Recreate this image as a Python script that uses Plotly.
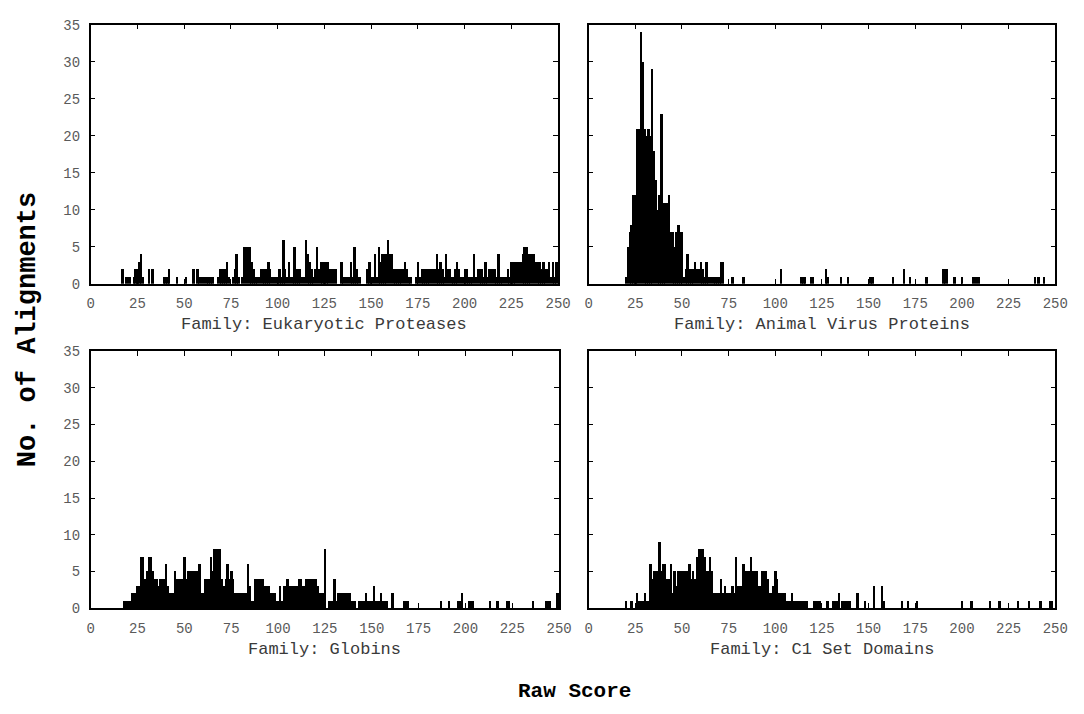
import plotly.graph_objects as go

# Raw score bins 0..250 (one bin per integer score)
scores = list(range(0, 251))

euk_proteases = [
    0,0,0,0,0,0,0,0,0,0,
    0,0,0,0,0,0,0,2,0,1,
    1,1,0,1,2,2,3,4,1,0,
    0,2,0,2,0,0,0,0,0,1,
    1,1,2,0,0,0,1,0,0,0,
    0,1,0,0,0,2,0,2,1,1,
    1,1,1,1,1,1,0,0,1,2,
    2,2,2,3,1,0,1,2,4,1,
    0,1,5,5,5,5,3,2,1,1,
    1,2,2,2,2,3,2,1,1,1,
    1,2,1,6,2,1,3,1,1,5,
    2,2,2,1,1,6,4,3,2,1,
    2,5,2,3,3,3,3,3,2,2,
    2,2,0,0,3,1,1,1,1,3,
    1,5,2,1,1,0,0,0,2,3,
    1,1,4,1,5,3,4,4,4,6,
    4,4,2,2,2,2,2,2,3,2,
    1,1,0,0,1,3,1,2,2,2,
    2,2,2,2,2,4,2,3,2,1,
    4,2,2,1,1,2,3,2,1,1,
    2,2,1,1,1,4,1,2,2,2,
    1,3,1,2,2,2,2,1,4,1,
    1,1,1,2,1,3,3,3,3,3,
    3,4,5,5,4,4,4,4,3,3,
    3,2,3,2,2,3,1,3,1,3,
    0,
]

animal_virus = [
    0,0,0,0,0,0,0,0,0,0,
    0,0,0,0,0,0,0,0,0,0,
    1,5,7,8,12,12,21,21,34,30,
    21,20,21,20,29,18,14,10,12,23,
    11,11,11,12,7,7,5,7,8,7,
    7,1,2,4,2,2,2,3,2,2,
    3,2,1,3,1,1,1,1,1,1,
    1,3,3,0,0,0,0,1,0,0,
    0,0,0,1,0,0,0,0,0,0,
    0,0,0,0,0,0,0,0,0,0,
    0,0,0,2,0,0,0,0,0,0,
    0,0,0,0,1,1,1,0,0,1,
    1,0,0,0,0,0,0,2,1,0,
    0,0,0,0,0,1,0,0,0,1,
    0,0,0,0,0,0,0,0,0,0,
    0,1,1,0,0,0,0,0,0,0,
    0,0,0,1,0,0,0,0,0,2,
    0,0,1,0,0,0,0,0,0,0,
    0,1,0,0,0,0,0,0,0,0,
    2,2,2,0,0,0,1,0,0,0,
    1,0,0,0,0,0,1,1,1,1,
    0,0,0,0,0,0,0,0,0,0,
    0,0,0,0,0,0,0,0,0,0,
    0,0,0,0,0,0,0,0,0,1,
    0,1,0,0,1,0,0,0,0,0,
    0,
]

globins = [
    0,0,0,0,0,0,0,0,0,0,
    0,0,0,0,0,0,0,0,1,1,
    1,1,2,2,2,3,3,7,7,4,
    5,7,7,5,4,4,3,4,4,4,
    6,3,2,2,2,5,4,4,4,4,
    7,4,5,5,5,5,5,5,6,2,
    2,4,4,4,7,5,8,8,8,8,
    4,3,4,6,4,5,4,2,2,2,
    2,2,2,2,6,3,1,1,4,4,
    4,4,4,3,3,3,2,2,2,1,
    1,3,1,3,3,4,3,3,3,3,
    3,4,4,3,3,4,4,4,4,4,
    4,3,2,2,2,8,0,1,1,1,
    4,1,2,2,2,2,2,2,2,1,
    1,1,0,1,1,1,1,2,1,1,
    1,3,1,1,1,2,1,1,1,0,
    0,2,0,0,0,0,0,1,1,1,
    0,0,0,0,0,0,0,0,0,0,
    0,0,0,0,0,0,0,1,0,0,
    0,1,0,0,0,0,1,1,2,0,
    0,0,1,1,1,0,0,0,0,0,
    0,0,0,1,0,0,0,1,0,0,
    0,0,1,1,0,0,0,0,0,0,
    0,0,0,0,0,0,1,0,0,0,
    0,0,0,1,1,1,0,0,0,2,
    0,
]

c1_set_domains = [
    0,0,0,0,0,0,0,0,0,0,
    0,0,0,0,0,0,0,0,0,0,
    1,0,0,1,0,0,2,1,1,1,
    2,1,1,6,4,5,5,5,9,5,
    6,6,4,4,6,2,5,3,5,5,
    5,5,5,5,6,4,5,4,7,8,
    8,8,7,5,5,7,5,2,2,2,
    2,4,2,3,2,2,2,3,2,7,
    3,3,3,6,5,5,5,7,5,5,
    5,3,3,5,5,5,4,2,2,3,
    5,4,2,2,2,2,1,1,1,2,
    1,1,1,1,1,1,1,1,0,0,
    0,1,1,1,1,0,0,0,1,0,
    0,1,1,1,2,0,1,1,1,1,
    1,0,0,0,2,0,0,0,1,0,
    0,0,0,3,0,0,0,3,1,0,
    0,0,0,0,0,0,0,0,1,0,
    0,1,0,0,0,0,1,0,0,0,
    0,0,0,0,0,0,0,0,0,0,
    0,0,0,0,0,0,0,0,0,0,
    1,0,0,0,0,1,0,0,0,0,
    0,0,0,0,0,1,0,0,0,0,
    1,0,0,0,0,0,0,0,0,0,
    1,0,0,0,0,0,1,0,0,0,
    0,0,1,0,0,0,0,1,1,0,
    0,
]

family_labels = [
    "Family: Eukaryotic Proteases",
    "Family: Animal Virus Proteins",
    "Family: Globins",
    "Family: C1 Set Domains",
]
x_ticks = [0, 25, 50, 75, 100, 125, 150, 175, 200, 225, 250]
y_ticks = [0, 5, 10, 15, 20, 25, 30, 35]
x_title = "Raw Score"
y_title = "No. of Alignments"

W, H = 1084, 714
panels = [
    # (counts, x-domain px, y-domain px (top,bottom), axis suffix)
    (euk_proteases, (88, 563), (18, 283), ""),
    (animal_virus, (594, 1068), (18, 283), "2"),
    (globins, (88, 564), (352, 615), "3"),
    (c1_set_domains, (594, 1068), (352, 615), "4"),
]

MONO = "Liberation Mono, Courier New, monospace"
fig = go.Figure()
layout = dict(
    width=W, height=H,
    margin=dict(l=0, r=0, t=0, b=0),
    paper_bgcolor="white", plot_bgcolor="white",
    showlegend=False, bargap=0,
)
annotations = []
for i, (counts, (xl, xr), (yt, yb), suf) in enumerate(panels):
    fig.add_trace(go.Bar(
        x=scores, y=counts, width=1.0,
        marker=dict(color="black", line=dict(width=0)),
        xaxis="x" + suf, yaxis="y" + suf,
    ))
    xdom = [xl / W, xr / W]
    ydom = [1 - yb / H, 1 - yt / H]
    left = (i % 2 == 0)
    layout["xaxis" + suf] = dict(
        domain=xdom, range=[0, 250], anchor="y" + suf,
        tickmode="array", tickvals=x_ticks, ticktext=[str(v) for v in x_ticks],
        ticks="inside", ticklen=5, tickwidth=1.2, tickcolor="black",
        showline=True, linecolor="black", linewidth=1.5, mirror="ticks",
        showgrid=False, zeroline=False, ticklabelstandoff=6,
        tickfont=dict(family=MONO, size=14, color="#5a5a5a"),
    )
    layout["yaxis" + suf] = dict(
        domain=ydom, range=[0, 35], anchor="x" + suf,
        tickmode="array", tickvals=y_ticks, ticktext=[str(v) for v in y_ticks],
        ticks="inside", ticklen=5, tickwidth=1.2, tickcolor="black",
        showline=True, linecolor="black", linewidth=1.5, mirror="ticks",
        showgrid=False, zeroline=False, showticklabels=left,
        ticklabelstandoff=6,
        tickfont=dict(family=MONO, size=14, color="#5a5a5a"),
    )
    annotations.append(dict(
        text=family_labels[i], xref="paper", yref="paper",
        x=(xl + xr) / 2 / W, y=1 - (yb + 42) / H,
        xanchor="center", yanchor="middle", showarrow=False,
        font=dict(family=MONO, size=17, color="#3a3a3a"),
    ))

annotations.append(dict(
    text="<b>" + x_title + "</b>", xref="paper", yref="paper",
    x=580 / W, y=1 - 700 / H, xanchor="center", yanchor="middle",
    showarrow=False, font=dict(family=MONO, size=21, color="black"),
))
annotations.append(dict(
    text="<b>" + y_title + "</b>", xref="paper", yref="paper",
    x=24 / W, y=1 - 330 / H, xanchor="center", yanchor="middle",
    textangle=-90, showarrow=False,
    font=dict(family=MONO, size=27, color="black"),
))
layout["annotations"] = annotations
fig.update_layout(**layout)
fig.write_html("out.html")
